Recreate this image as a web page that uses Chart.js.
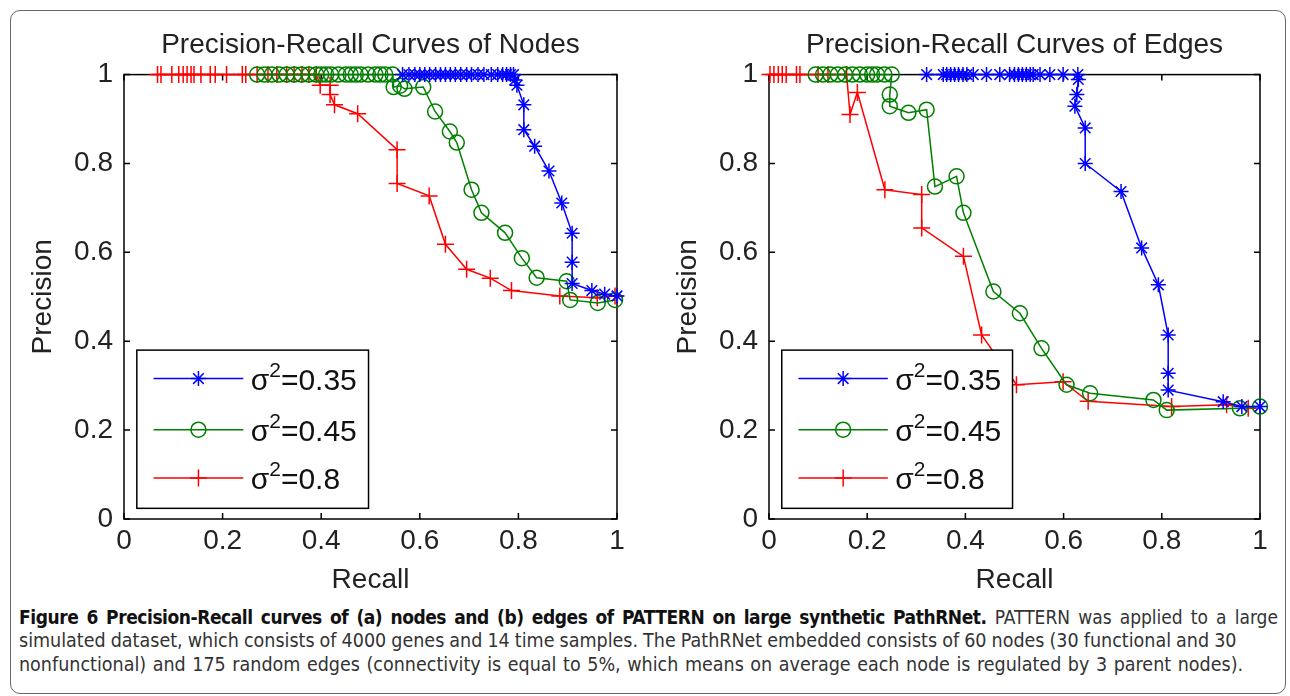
<!DOCTYPE html>
<html>
<head>
<meta charset="utf-8">
<script src="https://cdn.jsdelivr.net/npm/chart.js@4.4.0/dist/chart.umd.min.js"></script>
<style>
  html, body { margin: 0; padding: 0; background: #fff; }
  body { width: 1290px; height: 696px; position: relative; overflow: hidden; }
  #frame { position: absolute; left: 10px; top: 10px; width: 1274px; height: 682px; border: 1px solid #666; border-radius: 10px; }
  .plot { position: absolute; top: 0; }
  #caption { position: absolute; left: 19px; top: 605px; width: 1259px; font-family: "DejaVu Sans Condensed", "Liberation Sans Narrow", sans-serif; font-size: 19.5px; line-height: 24px; color: #333; }
  #caption div { white-space: nowrap; }
  #caption .l1 { text-align: justify; text-align-last: justify; font-size: 19px; }
  #caption .l1 b { letter-spacing: -0.45px; }
  #caption .l2 { word-spacing: -0.5px; }
  #caption .l3 { word-spacing: 1px; }
  #caption b { color: #111; }
</style>
</head>
<body>
<div id="frame"></div>
<canvas id="nodes" class="plot" width="645" height="600" style="left:0px"></canvas>
<canvas id="edges" class="plot" width="645" height="600" style="left:645px"></canvas>
<div id="caption">
  <div class="l1"><b>Figure 6 Precision-Recall curves of (a) nodes and (b) edges of PATTERN on large synthetic PathRNet.</b> PATTERN was applied to a large</div>
  <div class="l2">simulated dataset, which consists of 4000 genes and 14 time samples. The PathRNet embedded consists of 60 nodes (30 functional and 30</div>
  <div class="l3">nonfunctional) and 175 random edges (connectivity is equal to 5%, which means on average each node is regulated by 3 parent nodes).</div>
</div>
<script>
// ---- data ----
// (a) nodes
var nodes35X = [0.565, 0.578, 0.59, 0.60, 0.61, 0.62, 0.632, 0.642, 0.652, 0.662, 0.672, 0.683, 0.695, 0.705, 0.718, 0.73, 0.745, 0.758, 0.768, 0.776, 0.784, 0.79,
                0.793, 0.797, 0.811, 0.811, 0.833, 0.862, 0.888, 0.909, 0.909, 0.909, 0.949, 0.975, 1.0];
var nodes35Y = [1, 1, 1, 1, 1, 1, 1, 1, 1, 1, 1, 1, 1, 1, 1, 1, 1, 1, 1, 1, 1, 1,
                0.988, 0.976, 0.932, 0.876, 0.839, 0.783, 0.711, 0.643, 0.578, 0.530, 0.514, 0.506, 0.502];
var nodes45X = [0.27, 0.285, 0.30, 0.315, 0.33, 0.345, 0.36, 0.375, 0.39, 0.40, 0.41, 0.42, 0.435, 0.45, 0.46, 0.47, 0.48, 0.495, 0.51, 0.52, 0.53, 0.545,
                0.547, 0.56, 0.569, 0.607, 0.631, 0.661, 0.675, 0.705, 0.725, 0.773, 0.807, 0.837, 0.898, 0.905, 0.961, 0.996];
var nodes45Y = [1, 1, 1, 1, 1, 1, 1, 1, 1, 1, 1, 1, 1, 1, 1, 1, 1, 1, 1, 1, 1, 1,
                0.972, 0.975, 0.968, 0.972, 0.917, 0.872, 0.847, 0.741, 0.689, 0.644, 0.587, 0.543, 0.535, 0.493, 0.486, 0.493];
var nodes8X = [0.068, 0.075, 0.097, 0.111, 0.12, 0.128, 0.136, 0.142, 0.156, 0.175, 0.185, 0.208, 0.24, 0.247, 0.27, 0.292, 0.31, 0.33, 0.345, 0.361, 0.375, 0.39,
               0.398, 0.418, 0.418, 0.427, 0.474, 0.554, 0.554, 0.619, 0.652, 0.695, 0.743, 0.786, 0.884, 0.96, 0.996];
var nodes8Y = [1, 1, 1, 1, 1, 1, 1, 1, 1, 1, 1, 1, 1, 1, 1, 1, 1, 1, 1, 1, 1, 1,
               0.976, 0.976, 0.955, 0.932, 0.912, 0.831, 0.755, 0.727, 0.618, 0.562, 0.542, 0.514, 0.502, 0.498, 0.502];

// (b) edges
var edges35X = [0.321, 0.355, 0.362, 0.37, 0.378, 0.386, 0.395, 0.403, 0.416, 0.443, 0.47, 0.49, 0.5, 0.508, 0.516, 0.524, 0.532, 0.538, 0.552, 0.572, 0.599, 0.629,
                0.63, 0.627, 0.623, 0.644, 0.644, 0.717, 0.759, 0.793, 0.813, 0.813, 0.813, 0.925, 0.963, 1.0];
var edges35Y = [1, 1, 1, 1, 1, 1, 1, 1, 1, 1, 1, 1, 1, 1, 1, 1, 1, 1, 1, 1, 1, 1,
                0.989, 0.955, 0.929, 0.88, 0.80, 0.737, 0.61, 0.527, 0.414, 0.328, 0.29, 0.264, 0.253, 0.253];
var edges45X = [0.095, 0.11, 0.125, 0.14, 0.155, 0.17, 0.185, 0.2, 0.21, 0.22, 0.235, 0.25,
                0.246, 0.246, 0.284, 0.321, 0.338, 0.382, 0.396, 0.457, 0.511, 0.555, 0.606, 0.654, 0.783, 0.81, 0.959, 1.0];
var edges45Y = [1, 1, 1, 1, 1, 1, 1, 1, 1, 1, 1, 1,
                0.955, 0.929, 0.914, 0.921, 0.748, 0.771, 0.689, 0.512, 0.463, 0.384, 0.302, 0.283, 0.268, 0.245, 0.249, 0.253];
var edges8X = [0.002, 0.01, 0.019, 0.027, 0.035, 0.056, 0.063, 0.10, 0.12, 0.158,
               0.165, 0.18, 0.236, 0.311, 0.311, 0.396, 0.433, 0.504, 0.599, 0.65, 0.82, 0.932, 0.976];
var edges8Y = [1, 1, 1, 1, 1, 1, 1, 1, 1, 1,
               0.91, 0.96, 0.741, 0.73, 0.655, 0.591, 0.414, 0.302, 0.309, 0.265, 0.253, 0.257, 0.249];

var tickValues = [0, 0.2, 0.4, 0.6, 0.8, 1];
var legendLabels = ['0.35', '0.45', '0.8'];

var FONT = '"Liberation Sans", Arial, sans-serif';

function toPts(xs, ys) {
  return xs.map(function(x, i) { return {x: x, y: ys[i]}; });
}

var styles = [
  {color: '#0000ff', pointStyle: 'star', radius: 7.5},
  {color: '#008000', pointStyle: 'circle', radius: 7.5},
  {color: '#ff0000', pointStyle: 'cross', radius: 8.5}
];

// box + inward tick marks like a matlab axes
var framePlugin = {
  id: 'frame',
  beforeDatasetsDraw: function(chart) {
    var ctx = chart.ctx, a = chart.chartArea;
    var xs = chart.scales.x, ys = chart.scales.y;
    ctx.save();
    ctx.strokeStyle = '#000';
    ctx.lineWidth = 1.5;
    ctx.strokeRect(a.left, a.top, a.right - a.left, a.bottom - a.top);
    ctx.beginPath();
    tickValues.forEach(function(v) {
      var px = xs.getPixelForValue(v), py = ys.getPixelForValue(v);
      ctx.moveTo(px, a.bottom); ctx.lineTo(px, a.bottom - 6);
      ctx.moveTo(px, a.top); ctx.lineTo(px, a.top + 6);
      ctx.moveTo(a.left, py); ctx.lineTo(a.left + 6, py);
      ctx.moveTo(a.right, py); ctx.lineTo(a.right - 6, py);
    });
    ctx.stroke();
    ctx.restore();
  }
};

// legend box drawn inside the plot, lower left
var legendPlugin = {
  id: 'boxLegend',
  afterDatasetsDraw: function(chart) {
    var ctx = chart.ctx;
    var xs = chart.scales.x, ys = chart.scales.y;
    var x0 = xs.getPixelForValue(0.026), x1 = xs.getPixelForValue(0.496);
    var y0 = ys.getPixelForValue(0.38), y1 = ys.getPixelForValue(0.024);
    ctx.save();
    ctx.fillStyle = '#fff';
    ctx.fillRect(x0, y0, x1 - x0, y1 - y0);
    ctx.strokeStyle = '#000';
    ctx.lineWidth = 1.5;
    ctx.strokeRect(x0, y0, x1 - x0, y1 - y0);
    var rows = [0.316, 0.201, 0.092];
    chart.data.datasets.forEach(function(ds, i) {
      var st = styles[i];
      var py = ys.getPixelForValue(rows[i]);
      var lx0 = xs.getPixelForValue(0.06), lx1 = xs.getPixelForValue(0.242), mx = xs.getPixelForValue(0.151);
      ctx.strokeStyle = st.color;
      ctx.lineWidth = 1.5;
      ctx.beginPath(); ctx.moveTo(lx0, py); ctx.lineTo(lx1, py); ctx.stroke();
      ctx.fillStyle = 'rgba(0,0,0,0)';
      Chart.helpers.drawPoint(ctx, {pointStyle: st.pointStyle, radius: st.radius, borderWidth: 1.5, rotation: 0}, mx, py);
      // text: sigma, superscript 2, =value
      var tx = xs.getPixelForValue(0.257);
      ctx.fillStyle = '#111';
      ctx.textBaseline = 'alphabetic';
      ctx.textAlign = 'left';
      ctx.font = '30px ' + FONT;
      var base = py + 11;
      ctx.fillText('σ', tx, base);
      tx += ctx.measureText('σ').width;
      ctx.font = '21px ' + FONT;
      ctx.fillText('2', tx, base - 13);
      tx += ctx.measureText('2').width;
      ctx.font = '30px ' + FONT;
      ctx.fillText('=' + legendLabels[i], tx, base);
    });
    ctx.restore();
  }
};

function fmtTick(v) {
  return String(Math.round(v * 10) / 10);
}

function makeChart(id, title, series, padRight) {
  var ctx = document.getElementById(id).getContext('2d');
  return new Chart(ctx, {
    type: 'scatter',
    data: {
      datasets: series.map(function(s, i) {
        var st = styles[i];
        return {
          label: 'σ²=' + legendLabels[i],
          data: s,
          showLine: true,
          borderColor: st.color,
          backgroundColor: 'rgba(0,0,0,0)',
          pointBorderColor: st.color,
          pointStyle: st.pointStyle,
          pointRadius: st.radius,
          pointHoverRadius: st.radius,
          pointBorderWidth: 1.5,
          borderWidth: 1.5,
          clip: false
        };
      })
    },
    options: {
      responsive: false,
      animation: false,
      layout: { padding: { top: 0, left: 0, right: padRight, bottom: 0 } },
      plugins: {
        legend: { display: false },
        tooltip: { enabled: false },
        title: {
          display: true,
          fullSize: false,
          text: title,
          color: '#222',
          font: { family: FONT, size: 28, weight: 'normal' },
          padding: { top: 28, bottom: 13 }
        }
      },
      scales: {
        x: {
          type: 'linear', min: 0, max: 1,
          grid: { display: false, drawTicks: false },
          border: { display: false },
          ticks: { stepSize: 0.2, padding: 5, color: '#222', font: { family: FONT, size: 28 }, callback: fmtTick },
          title: { display: true, text: 'Recall', color: '#222', font: { family: FONT, size: 28 }, padding: { top: 0, bottom: 3 } },
          afterFit: function(s) { s.height = 81; }
        },
        y: {
          type: 'linear', min: 0, max: 1,
          grid: { display: false, drawTicks: false },
          border: { display: false },
          ticks: { stepSize: 0.2, padding: 11, color: '#222', font: { family: FONT, size: 28 }, callback: fmtTick },
          title: { display: true, text: 'Precision', color: '#222', font: { family: FONT, size: 28 }, padding: { top: 26, bottom: 0 } },
          afterFit: function(s) { s.width = 124; }
        }
      }
    },
    plugins: [framePlugin, legendPlugin]
  });
}

makeChart('nodes', 'Precision-Recall Curves of Nodes',
  [toPts(nodes35X, nodes35Y), toPts(nodes45X, nodes45Y), toPts(nodes8X, nodes8Y)], 28);
makeChart('edges', 'Precision-Recall Curves of Edges',
  [toPts(edges35X, edges35Y), toPts(edges45X, edges45Y), toPts(edges8X, edges8Y)], 30);
</script>
</body>
</html>
